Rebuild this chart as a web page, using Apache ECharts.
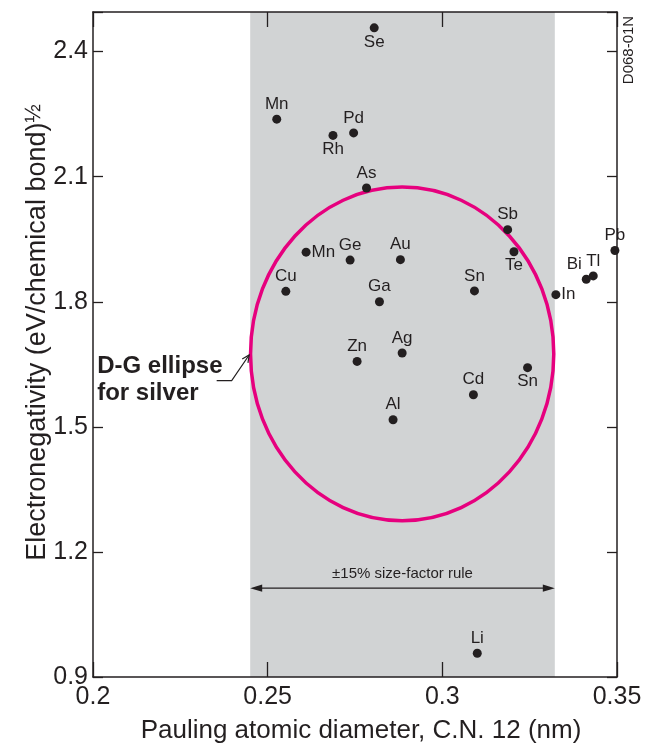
<!DOCTYPE html>
<html>
<head>
<meta charset="utf-8">
<script src="https://cdn.jsdelivr.net/npm/echarts@6/dist/echarts.min.js"></script>
<style>
  html, body { margin: 0; padding: 0; background: #ffffff; }
  #chart { width: 654px; height: 749px; }
</style>
</head>
<body>
<div id="chart"></div>
<script>
// Solute elements: Pauling atomic diameter (C.N. 12, nm) and electronegativity
const elements = ['Se', 'Mn', 'Pd', 'Rh', 'As', 'Sb', 'Te', 'Pb', 'Bi', 'Tl', 'In', 'Mn',
                  'Ge', 'Au', 'Cu', 'Ga', 'Sn', 'Zn', 'Ag', 'Sn', 'Cd', 'Al', 'Li'];
const diameters = [0.2805, 0.2526, 0.2746, 0.2687, 0.2783, 0.3187, 0.3205, 0.3494, 0.3412, 0.3432, 0.3325, 0.2610,
                   0.2736, 0.2880, 0.2552, 0.2820, 0.3092, 0.2756, 0.2885, 0.3244, 0.3089, 0.2859, 0.3100];
const electronegativities = [2.457, 2.238, 2.205, 2.199, 2.073, 1.973, 1.920, 1.923, 1.854, 1.862, 1.817, 1.919,
                             1.900, 1.901, 1.825, 1.800, 1.826, 1.657, 1.677, 1.642, 1.577, 1.517, 0.957];
// where each element symbol sits relative to its dot
const labelSides = ['bottom', 'top', 'top', 'bottom', 'top', 'top', 'bottom', 'top', 'upleft', 'top', 'right', 'right',
                    'top', 'top', 'top', 'top', 'top', 'top', 'top', 'bottom', 'top', 'top', 'top'];

// Tick labels
const xTicks = [0.2, 0.25, 0.3, 0.35];
const yTicks = [0.9, 1.2, 1.5, 1.8, 2.1, 2.4];

// Silver (solvent): ±15% size-factor band and Darken-Gurry ellipse (±15% size, ±0.4 electronegativity)
const sizeBand = [0.2450, 0.3322];
const ellipseCenter = [0.2885, 1.675];
const ellipseRadii = [0.0434, 0.400];

// Annotation anchors (data units)
const ruleArrowY = 1.113;
const ruleLabelY = 1.147;
const dgText = [0.2012, 1.6126];
const dgPointer = [[0.2354, 1.611], [0.2397, 1.611], [0.2447, 1.6724]];

const INK = '#231f20';
const FONT = '"Liberation Sans", Arial, Helvetica, sans-serif';

const chart = echarts.init(document.getElementById('chart'), null, { renderer: 'canvas' });

function tickFmt(list) {
  return function (v) {
    for (const t of list) { if (Math.abs(v - t) < 1e-6) return String(t); }
    return '';
  };
}

function labelFor(side) {
  if (side === 'bottom') return { position: 'bottom', distance: 1 };
  if (side === 'right') return { position: 'right', distance: 1 };
  if (side === 'upleft') return { position: 'left', distance: 0, offset: [0, -15] };
  return { position: 'top', distance: 2 };
}

const scatterData = elements.map((name, i) => ({
  name: name,
  value: [diameters[i], electronegativities[i]],
  label: labelFor(labelSides[i])
}));

const axisLineStyle = { color: INK, width: 1.5 };

const option = {
  backgroundColor: '#ffffff',
  animation: false,
  textStyle: { fontFamily: FONT, color: INK },
  grid: { left: 93, right: 37, top: 12, bottom: 70, containLabel: false },
  xAxis: [
    {
      type: 'value', position: 'bottom', min: 0.2, max: 0.35, interval: 0.05, z: 10,
      axisLine: { show: true, onZero: false, lineStyle: axisLineStyle },
      axisTick: { show: true, inside: true, length: 15, lineStyle: { color: INK, width: 1.3 } },
      axisLabel: { fontSize: 25, color: INK, fontFamily: FONT, margin: 8, formatter: tickFmt(xTicks) },
      splitLine: { show: false },
      name: 'Pauling atomic diameter, C.N. 12 (nm)',
      nameLocation: 'middle', nameGap: 41,
      nameTextStyle: { fontSize: 26, color: INK, fontFamily: FONT, padding: [0, 0, 0, 12] }
    },
    {
      type: 'value', position: 'top', min: 0.2, max: 0.35, interval: 0.05, z: 10,
      axisLine: { show: true, onZero: false, lineStyle: axisLineStyle },
      axisTick: { show: true, inside: true, length: 15, lineStyle: { color: INK, width: 1.3 } },
      axisLabel: { show: false },
      splitLine: { show: false }
    }
  ],
  yAxis: [
    {
      type: 'value', position: 'left', min: 0.9, max: 2.495, interval: 0.3, z: 10,
      axisLine: { show: true, onZero: false, lineStyle: axisLineStyle },
      axisTick: { show: true, inside: true, length: 10, lineStyle: { color: INK, width: 1.3 } },
      axisLabel: { fontSize: 25, color: INK, fontFamily: FONT, margin: 5, formatter: tickFmt(yTicks) },
      splitLine: { show: false },
      name: '{a|Electronegativity (eV/chemical bond)}{s|½}',
      nameLocation: 'middle', nameGap: 40, nameMoveOverlap: false,
      nameTextStyle: {
        color: INK, fontFamily: FONT, padding: [0, 0, 0, 24],
        rich: {
          a: { fontSize: 27, color: INK, fontFamily: FONT, lineHeight: 30 },
          s: { fontSize: 22, color: INK, fontFamily: FONT, verticalAlign: 'top', lineHeight: 22 }
        }
      }
    },
    {
      type: 'value', position: 'right', min: 0.9, max: 2.495, interval: 0.3, z: 10,
      axisLine: { show: true, onZero: false, lineStyle: axisLineStyle },
      axisTick: { show: true, inside: true, length: 10, lineStyle: { color: INK, width: 1.3 } },
      axisLabel: { show: false },
      splitLine: { show: false }
    }
  ],
  graphic: [
    {
      type: 'text', x: 629, y: 50, rotation: Math.PI / 2, silent: true,
      style: {
        text: 'D068-01N', fill: INK, font: '15px ' + FONT,
        align: 'center', verticalAlign: 'middle', textAlign: 'center', textVerticalAlign: 'middle'
      }
    }
  ],
  series: [
    {
      // grey ±15% size-factor band
      type: 'custom', name: 'band', z: 1, silent: true,
      xAxisIndex: 0, yAxisIndex: 0,
      data: [sizeBand],
      renderItem: function (params, api) {
        const cs = params.coordSys;
        const x0 = api.coord([api.value(0), 1.5])[0];
        const x1 = api.coord([api.value(1), 1.5])[0];
        return {
          type: 'rect',
          shape: { x: x0, y: cs.y, width: x1 - x0, height: cs.height },
          style: { fill: '#d1d3d4' }
        };
      }
    },
    {
      // Darken-Gurry ellipse around silver
      type: 'custom', name: 'ellipse', z: 2, silent: true,
      xAxisIndex: 0, yAxisIndex: 0,
      data: [[ellipseCenter[0], ellipseCenter[1], ellipseRadii[0], ellipseRadii[1]]],
      renderItem: function (params, api) {
        const c = api.coord([api.value(0), api.value(1)]);
        const s = api.size([api.value(2), api.value(3)]);
        return {
          type: 'ellipse',
          shape: { cx: c[0], cy: c[1], rx: s[0], ry: s[1] },
          style: { fill: 'none', stroke: '#e6007e', lineWidth: 3.5 }
        };
      }
    },
    {
      // size-factor arrow and ellipse call-out
      type: 'custom', name: 'notes', z: 3, silent: true,
      xAxisIndex: 0, yAxisIndex: 0,
      data: [[sizeBand[0], ruleArrowY]],
      renderItem: function (params, api) {
        const a = api.coord([sizeBand[0], ruleArrowY]);
        const b = api.coord([sizeBand[1], ruleArrowY]);
        const lab = api.coord([(sizeBand[0] + sizeBand[1]) / 2, ruleLabelY]);
        const headL = 12, headW = 3.6;
        const children = [
          { type: 'line', shape: { x1: a[0] + 4, y1: a[1], x2: b[0] - 4, y2: b[1] },
            style: { stroke: INK, lineWidth: 1.3 } },
          { type: 'polygon', shape: { points: [[a[0], a[1]], [a[0] + headL, a[1] - headW], [a[0] + headL, a[1] + headW]] },
            style: { fill: INK } },
          { type: 'polygon', shape: { points: [[b[0], b[1]], [b[0] - headL, b[1] - headW], [b[0] - headL, b[1] + headW]] },
            style: { fill: INK } },
          { type: 'text', x: lab[0], y: lab[1],
            style: { text: '±15% size-factor rule', fill: INK, font: '15px ' + FONT,
                     align: 'center', verticalAlign: 'middle', textAlign: 'center', textVerticalAlign: 'middle' } }
        ];
        const pts = dgPointer.map(p => api.coord(p));
        children.push({ type: 'polyline', shape: { points: pts }, style: { stroke: INK, lineWidth: 1.2, fill: null } });
        // open arrow head at the ellipse
        const tip = pts[pts.length - 1], prev = pts[pts.length - 2];
        const ang = Math.atan2(tip[1] - prev[1], tip[0] - prev[0]);
        const hl = 8, spread = 0.45;
        const h1 = [tip[0] - hl * Math.cos(ang - spread), tip[1] - hl * Math.sin(ang - spread)];
        const h2 = [tip[0] - hl * Math.cos(ang + spread), tip[1] - hl * Math.sin(ang + spread)];
        children.push({ type: 'polyline', shape: { points: [h1, tip, h2] }, style: { stroke: INK, lineWidth: 1.2, fill: null } });
        const t = api.coord(dgText);
        children.push({
          type: 'text', x: t[0], y: t[1],
          style: { text: 'D-G ellipse\nfor silver', fill: INK, font: 'bold 24px ' + FONT, lineHeight: 27,
                   align: 'left', verticalAlign: 'middle', textAlign: 'left', textVerticalAlign: 'middle' }
        });
        return { type: 'group', children: children };
      }
    },
    {
      type: 'scatter', name: 'elements', z: 4,
      xAxisIndex: 0, yAxisIndex: 0,
      symbol: 'circle', symbolSize: 9,
      itemStyle: { color: INK, opacity: 1 },
      label: {
        show: true, formatter: '{b}', fontSize: 17, color: INK, fontFamily: FONT
      },
      emphasis: { disabled: true },
      data: scatterData
    }
  ]
};

chart.setOption(option);
</script>
</body>
</html>
